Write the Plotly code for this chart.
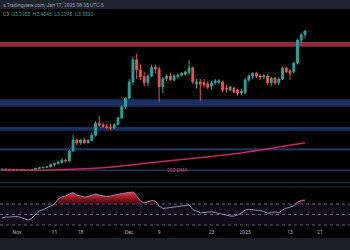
import plotly.graph_objects as go
import numpy as np
import pandas as pd

# ---------------- data ----------------
dates = pd.date_range('2024-10-28', '2025-01-17', freq='D')

opens = [0.51, 0.52, 0.52, 0.51, 0.50, 0.51, 0.51, 0.50, 0.50, 0.51, 0.54, 0.55, 0.56, 0.57, 0.62, 0.64, 0.66, 0.71, 0.69, 0.90,
         1.13, 1.07, 1.13, 1.07, 1.12, 1.23, 1.48, 1.44, 1.41, 1.39, 1.38, 1.45, 1.59, 1.82, 2.00, 2.34, 2.80, 2.59, 2.45, 2.32,
         2.46, 2.64, 2.61, 2.24, 2.41, 2.46, 2.38, 2.45, 2.48, 2.50, 2.54, 2.63, 2.29, 2.34, 2.32, 2.30, 2.25, 2.32, 2.33, 2.34,
         2.21, 2.17, 2.21, 2.17, 2.11, 2.11, 2.38, 2.46, 2.52, 2.46, 2.44, 2.46, 2.32, 2.42, 2.32, 2.40, 2.63, 2.57, 2.55, 2.73,
         3.21, 3.32]
highs = [0.53, 0.53, 0.53, 0.52, 0.52, 0.52, 0.51, 0.51, 0.52, 0.55, 0.55, 0.57, 0.58, 0.64, 0.66, 0.70, 0.75, 0.73, 0.92, 1.24,
         1.16, 1.15, 1.17, 1.15, 1.28, 1.52, 1.63, 1.50, 1.46, 1.47, 1.48, 1.62, 1.85, 2.02, 2.40, 2.87, 2.93, 2.70, 2.55, 2.50,
         2.70, 2.70, 2.66, 2.45, 2.50, 2.53, 2.50, 2.52, 2.54, 2.57, 2.80, 2.66, 2.40, 2.40, 2.40, 2.35, 2.36, 2.40, 2.40, 2.37,
         2.28, 2.26, 2.24, 2.20, 2.20, 2.42, 2.49, 2.53, 2.55, 2.50, 2.50, 2.50, 2.45, 2.44, 2.44, 2.66, 2.66, 2.60, 2.76, 3.24,
         3.36, 3.42]
lows = [0.50, 0.51, 0.51, 0.50, 0.49, 0.50, 0.49, 0.49, 0.49, 0.50, 0.53, 0.54, 0.55, 0.56, 0.58, 0.62, 0.64, 0.66, 0.68, 0.88,
        1.02, 1.03, 1.05, 1.06, 1.10, 1.20, 1.40, 1.38, 1.35, 1.33, 1.36, 1.43, 1.57, 1.78, 1.98, 2.28, 2.40, 2.38, 2.25, 2.25,
        2.44, 2.52, 1.93, 2.10, 2.36, 2.36, 2.35, 2.40, 2.45, 2.47, 2.48, 2.30, 2.20, 1.94, 2.22, 2.19, 2.18, 2.28, 2.30, 2.12,
        2.12, 2.14, 2.10, 2.05, 2.07, 2.09, 2.34, 2.40, 2.42, 2.38, 2.40, 2.28, 2.25, 2.28, 2.27, 2.38, 2.52, 2.38, 2.52, 2.70,
        3.12, 3.25]
closes = [0.52, 0.52, 0.51, 0.50, 0.51, 0.51, 0.50, 0.50, 0.51, 0.54, 0.55, 0.56, 0.57, 0.62, 0.64, 0.67, 0.71, 0.69, 0.90, 1.13,
          1.07, 1.13, 1.07, 1.12, 1.23, 1.48, 1.44, 1.41, 1.39, 1.38, 1.45, 1.59, 1.82, 2.00, 2.34, 2.80, 2.59, 2.45, 2.32, 2.46,
          2.64, 2.61, 2.24, 2.41, 2.46, 2.38, 2.46, 2.48, 2.52, 2.55, 2.63, 2.34, 2.34, 2.29, 2.28, 2.23, 2.32, 2.36, 2.36, 2.17,
          2.19, 2.23, 2.13, 2.11, 2.14, 2.38, 2.46, 2.52, 2.46, 2.44, 2.47, 2.32, 2.42, 2.32, 2.40, 2.63, 2.55, 2.52, 2.73, 3.21,
          3.32, 3.40]

rsi = [43.3, 45.2, 45.2, 46.2, 46.2, 44.3, 41.4, 39.5, 43.3, 51.0, 56.7, 59.5, 62.4, 66.2, 70.0, 79.5, 83.3, 85.2, 89.0, 91.9,
       87.1, 85.2, 83.3, 84.3, 87.1, 89.0, 87.1, 85.2, 84.3, 85.2, 87.1, 89.0, 90.0, 91.0, 91.9, 92.9, 85.2, 75.7, 71.9, 74.8,
       76.7, 75.7, 66.2, 61.4, 62.4, 63.3, 64.3, 65.2, 66.2, 68.1, 68.1, 59.5, 56.7, 53.4, 53.8, 54.8, 55.3, 53.8, 52.3, 50.0,
       48.1, 47.1, 47.1, 49.0, 52.9, 58.6, 59.9, 59.5, 58.6, 57.6, 55.7, 52.3, 53.8, 54.8, 53.4, 58.6, 61.8, 63.3, 66.2, 73.8,
       76.7, 77.6]

dma_dates = ['2024-10-28', '2024-11-10', '2024-11-23', '2024-12-06', '2024-12-13', '2024-12-31', '2025-01-17']
dma_vals = [0.50, 0.505, 0.545, 0.65, 0.71, 0.86, 1.07]

level_lo = [3.07, 1.82, 1.32, 0.91, 0.485, 0.23]
level_hi = [3.17, 1.98, 1.40, 0.96, 0.515, 0.25]
level_colors = ['#94293a', '#1c2f63', '#1c2f63', '#1f3561', '#1f3561', '#1f3561']

tick_dates = ['2024-11-01', '2024-11-11', '2024-11-18', '2024-12-01', '2024-12-09', '2024-12-23', '2025-01-01', '2025-01-13', '2025-01-21']
tick_text = ['Nov', '11', '18', 'Dec', '9', '23', '2025', '13', '21']

# ---------------- figure ----------------
W, H = 350, 250
def py(p):  # pixel row -> paper fraction
    return 1 - p / H

x_start = pd.Timestamp('2024-11-01') - pd.Timedelta(days=4.545)
x_end = pd.Timestamp('2024-11-01') + pd.Timedelta(days=89.04)

fig = go.Figure()

for lo, hi, col in zip(level_lo, level_hi, level_colors):
    fig.add_shape(type='rect', xref='paper', x0=0, x1=1, yref='y', y0=lo, y1=hi,
                  fillcolor=col, line_width=0, layer='below')

fig.add_trace(go.Scatter(x=pd.to_datetime(dma_dates), y=dma_vals, mode='lines',
                         line=dict(color='#c4285e', width=1.5, shape='spline'),
                         xaxis='x', yaxis='y', hoverinfo='skip'))

fig.add_trace(go.Candlestick(x=dates, open=opens, high=highs, low=lows, close=closes,
                             increasing=dict(line=dict(color='#26a69a', width=1), fillcolor='#26a69a'),
                             decreasing=dict(line=dict(color='#ef5350', width=1), fillcolor='#ef5350'),
                             whiskerwidth=0, xaxis='x', yaxis='y'))

# RSI pane
fig.add_shape(type='rect', xref='paper', x0=0, x1=1, yref='y2', y0=30, y1=70,
              fillcolor='rgba(126,87,194,0.12)', line_width=0, layer='below')
for lv in [70, 50, 30]:
    fig.add_shape(type='line', xref='paper', x0=0, x1=1, yref='y2', y0=lv, y1=lv,
                  line=dict(color='#5d6070', width=1, dash='dot'), layer='below')

rsi_arr = np.array(rsi)
fig.add_trace(go.Scatter(x=dates, y=np.full(len(dates), 70.0), mode='lines',
                         line=dict(width=0, color='rgba(0,0,0,0)'), xaxis='x2', yaxis='y2', hoverinfo='skip'))
fig.add_trace(go.Scatter(x=dates, y=np.maximum(rsi_arr, 70.0), mode='lines', fill='tonexty',
                         line=dict(width=0, color='rgba(0,0,0,0)'),
                         fillgradient=dict(type='vertical', start=70, stop=90,
                                           colorscale=[[0, 'rgba(110,15,25,0.55)'], [1, 'rgba(235,45,60,1)']]),
                         xaxis='x2', yaxis='y2', hoverinfo='skip'))
fig.add_trace(go.Scatter(x=dates, y=rsi, mode='lines', line=dict(color='#8e88b5', width=1),
                         xaxis='x2', yaxis='y2'))

# bars / separators
fig.add_shape(type='rect', xref='paper', yref='paper', x0=0, x1=1, y0=py(9), y1=1,
              fillcolor='#1f232d', line_width=0, layer='above')
fig.add_shape(type='rect', xref='paper', yref='paper', x0=0, x1=1, y0=0, y1=py(238),
              fillcolor='#1d1f27', line_width=0, layer='above')
fig.add_shape(type='line', xref='paper', yref='paper', x0=0, x1=1, y0=py(187), y1=py(187),
              line=dict(color='#2e2c22', width=1), layer='above')

fig.add_annotation(xref='paper', yref='paper', x=0.003, y=py(5), xanchor='left', yanchor='middle',
                   text='s Tradingview.com, Jan 17, 2025 08:35 UTC-5', showarrow=False,
                   font=dict(size=5, color='#9aa0ad', family='Roboto'))
fig.add_annotation(xref='paper', yref='paper', x=0.003, y=py(14), xanchor='left', yanchor='middle',
                   text='C3  <span style="color:#26a69a">O3.2950  H3.4045  L3.2275  C3.3330</span>',
                   showarrow=False, font=dict(size=5, color='#9aa0ad', family='Roboto'))
fig.add_annotation(xref='x', yref='y', x=pd.Timestamp('2024-12-14'), y=0.50, text='200 DMA',
                   showarrow=False, font=dict(size=5, color='#d04070', family='Roboto'))

fig.update_layout(
    width=W, height=H, margin=dict(l=0, r=0, t=0, b=0),
    paper_bgcolor='#000000', plot_bgcolor='#000000', showlegend=False,
    xaxis=dict(domain=[0, 1], range=[x_start, x_end], anchor='y', showticklabels=False,
               showgrid=False, zeroline=False, rangeslider=dict(visible=False), matches='x2'),
    yaxis=dict(domain=[py(185), py(9)], range=[0.192, 3.858], visible=False, showgrid=False),
    xaxis2=dict(domain=[0, 1], range=[x_start, x_end], anchor='free', position=py(228), showgrid=False,
                zeroline=False, showline=False,
                tickvals=pd.to_datetime(tick_dates), ticktext=tick_text, ticks='', ticklen=0,
                tickfont=dict(size=5, color='#b2b5be', family='Roboto')),
    yaxis2=dict(domain=[py(229), py(187)], range=[22.4, 102.4], visible=False, showgrid=False),
)

fig.write_html('out.html')
